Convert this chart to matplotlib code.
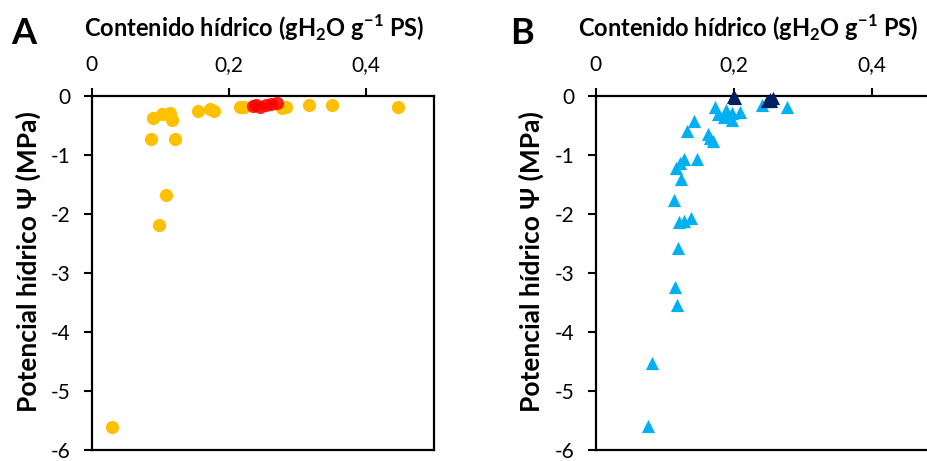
import matplotlib
matplotlib.use("Agg")
import matplotlib.pyplot as plt
from matplotlib.ticker import FixedLocator, FixedFormatter

plt.rcParams['font.family'] = ['Lato', 'DejaVu Sans']
plt.rcParams['mathtext.fontset'] = 'custom'
plt.rcParams['mathtext.rm'] = 'Lato'
plt.rcParams['mathtext.bf'] = 'Lato:bold'

# ---- data ----
# Panel A
a_yellow_x = [0.090, 0.103, 0.115, 0.117, 0.086, 0.122, 0.155, 0.172, 0.179,
              0.216, 0.223, 0.278, 0.284, 0.317, 0.350, 0.447, 0.108, 0.098, 0.030]
a_yellow_y = [-0.37, -0.31, -0.28, -0.40, -0.73, -0.73, -0.25, -0.22, -0.26,
              -0.19, -0.19, -0.20, -0.18, -0.16, -0.16, -0.18, -1.68, -2.18, -5.61]
a_red_x = [0.235, 0.240, 0.246, 0.255, 0.262, 0.270]
a_red_y = [-0.17, -0.15, -0.18, -0.15, -0.14, -0.12]

# Panel B
b_light_x = [0.172, 0.277, 0.240, 0.177, 0.188, 0.197, 0.208, 0.185, 0.197,
             0.142, 0.132, 0.163, 0.166, 0.169, 0.147, 0.127, 0.122, 0.116,
             0.124, 0.113, 0.138, 0.127, 0.121, 0.119, 0.114, 0.117, 0.082, 0.075]
b_light_y = [-0.19, -0.18, -0.15, -0.31, -0.24, -0.28, -0.27, -0.35, -0.41,
             -0.42, -0.59, -0.64, -0.71, -0.77, -1.06, -1.06, -1.13, -1.22,
             -1.40, -1.76, -2.07, -2.12, -2.13, -2.57, -3.23, -3.55, -4.52, -5.60]
b_dark_x = [0.199, 0.201, 0.248, 0.252, 0.256, 0.254]
b_dark_y = [-0.01, -0.03, -0.08, -0.05, -0.04, -0.08]

x_ticks = [0, 0.2, 0.4]
x_ticklabels = ["0", "0,2", "0,4"]
y_ticks = [0, -1, -2, -3, -4, -5, -6]
y_ticklabels = ["0", "-1", "-2", "-3", "-4", "-5", "-6"]

title_text = r"Contenido hídrico (gH$_\mathbf{2}$O g$^\mathbf{-1}$ PS)"
ylabel_text = "Potencial hídrico Ψ (MPa)"

YELLOW = "#FFC000"
RED = "#FF0000"
LBLUE = "#00B0F0"
NAVY = "#002060"

W, H = 928, 461
fig = plt.figure(figsize=(W / 100, H / 100), dpi=100)

def px_rect(left, top, right, bottom):
    return [left / W, 1 - bottom / H, (right - left) / W, (bottom - top) / H]

axA = fig.add_axes(px_rect(91.7, 96, 434.3, 450))
axB = fig.add_axes(px_rect(595.7, 96, 595.7 + 345.75, 450))

def style(ax):
    ax.set_xlim(0, 0.5)
    ax.set_ylim(-6, 0)
    ax.xaxis.tick_top()
    ax.xaxis.set_major_locator(FixedLocator(x_ticks))
    ax.xaxis.set_major_formatter(FixedFormatter(x_ticklabels))
    ax.yaxis.set_major_locator(FixedLocator(y_ticks))
    ax.yaxis.set_major_formatter(FixedFormatter(y_ticklabels))
    ax.tick_params(axis='x', direction='out', length=5.5, width=1.5, pad=9.5,
                   labelsize=15, top=True, bottom=False)
    ax.tick_params(axis='y', direction='out', length=6, width=1.5, pad=9.5,
                   labelsize=15)
    for s in ax.spines.values():
        s.set_linewidth(1.6)
        s.set_color("black")

style(axA)
style(axB)

ms = 90
axA.scatter(a_yellow_x, a_yellow_y, s=ms, color=YELLOW, linewidths=0, zorder=3, clip_on=False)
axA.scatter(a_red_x, a_red_y, s=ms, color=RED, alpha=0.85, linewidths=0, zorder=4, clip_on=False)
axB.scatter(b_light_x, b_light_y, s=ms, marker='^', color=LBLUE, linewidths=0, zorder=3, clip_on=False)
axB.scatter(b_dark_x, b_dark_y, s=ms, marker='^', color=NAVY, linewidths=0, zorder=4, clip_on=False)

# titles
fig.text(254 / W, 1 - 28 / H, title_text, ha='center', va='center',
         fontsize=17, fontweight='bold')
fig.text(748 / W, 1 - 28 / H, title_text, ha='center', va='center',
         fontsize=17, fontweight='bold')
# panel letters
fig.text(24 / W, 1 - 34 / H, "A", ha='center', va='center', fontsize=26, fontweight='bold')
fig.text(522 / W, 1 - 34 / H, "B", ha='center', va='center', fontsize=26, fontweight='bold')
# y labels
fig.text(28 / W, 1 - 262 / H, ylabel_text, ha='center', va='center', rotation=90,
         fontsize=19, fontweight='bold')
fig.text(531 / W, 1 - 262 / H, ylabel_text, ha='center', va='center', rotation=90,
         fontsize=19, fontweight='bold')

fig.savefig("out.png", dpi=100)
